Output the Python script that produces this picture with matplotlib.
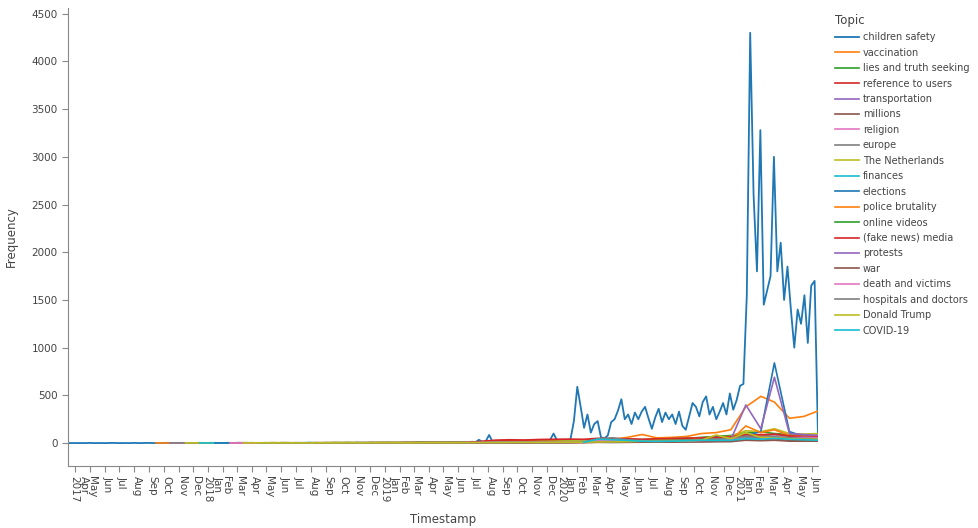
import numpy as np
import pandas as pd
import matplotlib
matplotlib.use("Agg")
import matplotlib.pyplot as plt
import matplotlib.dates as mdates

N = None

# weekly counts for the dominant topic
children_safety = [
    0, 1, 0, 0, 1, 0, 2, 1, 0, 1, 0, 0, 1, 2, 1, 0, 1, 1, 0, 2,
    1, 0, 1, 2, 1, 1, 0, 2, 1, 3, 1, 2, 1, 0, 2, 1, 2, 1, 3, 2,
    2, 1, 3, 2, 2, 1, 2, 3, 2, 1, 4, 2, 3, 2, 3, 1, 2, 4, 3, 2,
    3, 2, 2, 4, 3, 3, 2, 4, 3, 2, 3, 5, 3, 4, 2, 3, 4, 3, 5, 4,
    4, 3, 5, 4, 3, 6, 4, 5, 4, 6, 5, 4, 6, 5, 7, 5, 6, 4, 6, 7,
    6, 5, 7, 6, 8, 6, 7, 5, 8, 7, 6, 8, 7, 9, 8, 10, 8, 9, 12, 14,
    10, 35, 12, 20, 85, 15, 10, 18, 12, 20, 15, 18, 25, 20, 15, 22,
    18, 25, 30, 20, 28, 25, 35, 100, 30, 25, 35, 30, 40, 230, 590,
    380, 160, 300, 110, 200, 230, 60, 50, 80, 220,
    250, 340, 460, 250, 300, 200, 320, 250, 330, 380,
    260, 150, 270, 360, 220, 320, 250, 300, 200, 330,
    180, 140, 280, 420, 380, 280, 430, 490, 300, 380,
    250, 330, 420, 300, 520, 350, 450, 600, 620, 1550,
    4300, 2600, 1800, 3280, 1450, 1600, 1750, 3000, 1800, 2100,
    1500, 1850, 1400, 1000, 1400, 1250, 1550, 1050, 1650, 1700,
    60,
]

# monthly counts (Mar 2017 .. Jun 2021), None = topic not present yet
vaccination = [N, N, N, N, N, N, 2, 1, 3, 2,
               2, 3, 1, 2, 4, 3, 2, 3, 5, 4, 3, 4,
               5, 4, 6, 5, 4, 6, 8, 10, 12, 15, 14, 18,
               15, 20, 35, 40, 60, 90, 55, 60, 70, 100, 110, 140,
               380, 490, 430, 260, 280, 340]
lies_truth = [N, N, N, N, N, N, N, 1, 2, 1,
              2, 1, 2, 3, 2, 2, 3, 2, 3, 4, 3, 3,
              4, 3, 5, 4, 5, 6, 8, 10, 12, 14, 15, 18,
              20, 25, 30, 35, 40, 35, 40, 45, 50, 60, 70, 80,
              110, 120, 100, 90, 85, 80]
reference_users = [N, N, N, N, N, N, N, 2, 1, 2,
                   1, 2, 3, 2, 2, 3, 2, 4, 3, 3, 4, 5,
                   4, 5, 6, 5, 6, 8, 15, 25, 30, 28, 32, 30,
                   35, 30, 40, 45, 40, 35, 40, 45, 50, 55, 60, 70,
                   80, 90, 85, 70, 65, 60]
transportation = [N, N, N, N, N, N, N, 1, 0, 1,
                  1, 1, 2, 1, 1, 2, 1, 2, 1, 2, 2, 1,
                  2, 2, 3, 2, 3, 3, 5, 6, 8, 8, 10, 10,
                  12, 10, 15, 12, 15, 18, 15, 20, 22, 25, 30, 35,
                  60, 50, 70, 45, 40, 40]
millions = [N, N, N, N, N, N, N, 1, 1, 0,
            1, 0, 1, 1, 2, 1, 1, 1, 2, 1, 1, 2,
            2, 1, 2, 2, 3, 2, 4, 5, 6, 6, 7, 8,
            8, 10, 12, 10, 12, 15, 12, 14, 15, 18, 20, 25,
            40, 35, 45, 30, 30, 25]
religion = [N, N, N, N, N, N, N, 1, 1, 2,
            1, 2, 1, 2, 2, 3, 2, 2, 3, 3, 2, 3,
            3, 3, 4, 3, 4, 5, 6, 8, 10, 10, 12, 12,
            15, 14, 18, 20, 22, 20, 22, 25, 28, 30, 35, 40,
            70, 60, 75, 55, 60, 90]
europe = [N, N, N, N, N, N, N, 2, 3, 2,
          2, 2, 3, 2, 3, 2, 3, 3, 2, 3, 3, 4,
          4, 4, 5, 6, 10, 8, 8, 10, 12, 12, 14, 15,
          18, 15, 20, 18, 20, 22, 25, 28, 30, 35, 38, 45,
          70, 65, 80, 60, 55, 60]
netherlands = [N, N, N, N, N, N, N, N, 2, 3,
               3, 2, 4, 3, 3, 4, 3, 3, 4, 5, 4, 5,
               6, 5, 7, 6, 8, 7, 10, 12, 15, 16, 18, 20,
               22, 25, 35, 30, 32, 35, 38, 40, 45, 55, 60, 70,
               130, 120, 150, 100, 95, 100]
finances = [N, N, N, N, N, N, N, N, N, 2,
            2, 1, 2, 2, 3, 2, 2, 3, 3, 3, 2, 3,
            3, 3, 4, 4, 5, 5, 6, 8, 10, 10, 12, 12,
            14, 15, 22, 20, 18, 20, 22, 25, 28, 30, 32, 38,
            60, 55, 65, 50, 45, 50]
elections = [N, N, N, N, N, N, N, N, N, N,
             1, 1, 2, 1, 1, 1, 2, 1, 2, 2, 3, 2,
             3, 2, 4, 3, 3, 3, 4, 5, 5, 6, 8, 8,
             8, 10, 10, 8, 10, 12, 15, 20, 25, 40, 70, 35,
             80, 120, 840, 120, 70, 60]
police_brutality = [N, N, N, N, N, N, N, N, N, N,
                    N, N, N, N, N, N, N, N, N, N, N, N,
                    1, 1, 2, 1, 2, 2, 3, 3, 4, 4, 5, 5,
                    5, 6, 10, 12, 15, 30, 20, 15, 18, 22, 25, 30,
                    180, 110, 140, 80, 70, 60]
online_videos = [N, N, N, N, N, N, N, N, N, N,
                 N, N, N, 1, 1, 2, 1, 2, 2, 1, 2, 2,
                 2, 3, 3, 2, 3, 4, 5, 6, 7, 8, 10, 10,
                 12, 12, 18, 20, 22, 25, 25, 28, 30, 35, 40, 45,
                 70, 65, 80, 60, 60, 55]
fake_news_media = [N, N, N, N, N, N, N, N, N, N,
                   N, 1, 2, 1, 2, 2, 3, 2, 2, 3, 3, 3,
                   3, 4, 4, 5, 5, 6, 15, 30, 35, 32, 38, 40,
                   42, 40, 50, 48, 45, 40, 45, 48, 50, 55, 60, 65,
                   90, 85, 95, 75, 70, 70]
protests = [N, N, N, N, N, N, N, N, N, N,
            N, 1, 1, 1, 2, 1, 1, 2, 1, 2, 2, 2,
            2, 2, 3, 2, 3, 3, 4, 5, 5, 6, 7, 7,
            8, 8, 10, 12, 15, 25, 15, 18, 20, 22, 25, 35,
            400, 150, 690, 100, 90, 80]
war = [N, N, N, N, N, N, N, N, N, N,
       N, 0, 1, 1, 0, 1, 1, 1, 1, 1, 1, 2,
       1, 2, 2, 1, 2, 2, 3, 3, 4, 4, 5, 5,
       5, 6, 8, 8, 8, 10, 10, 10, 12, 12, 14, 15,
       30, 25, 30, 20, 20, 20]
death_victims = [N, N, N, N, N, N, N, N, N, N,
                 N, 1, 1, 2, 1, 2, 2, 1, 2, 2, 2, 3,
                 3, 3, 3, 4, 4, 5, 6, 7, 8, 8, 10, 10,
                 12, 14, 25, 30, 25, 20, 22, 22, 25, 28, 32, 38,
                 70, 60, 75, 55, 60, 55]
hospitals_doctors = [N, N, N, N, N, N, N, N, N, N,
                     N, N, N, 1, 1, 2, 1, 1, 2, 1, 2, 2,
                     2, 2, 3, 3, 3, 4, 4, 5, 5, 6, 6, 7,
                     8, 10, 45, 55, 35, 25, 22, 25, 28, 35, 40, 50,
                     70, 60, 65, 55, 50, 45]
donald_trump = [N, N, N, N, N, N, N, N, N, N,
                N, N, 2, 3, 2, 3, 2, 3, 3, 4, 3, 4,
                4, 3, 4, 5, 4, 5, 6, 6, 7, 8, 8, 9,
                10, 10, 12, 12, 15, 20, 18, 20, 25, 30, 85, 45,
                110, 60, 55, 45, 40, 40]
covid19 = [N, N, N, N, N, N, N, N, N, N,
           N, N, N, N, N, N, N, N, N, N, N, N,
           N, N, N, N, N, N, N, N, N, N, N, N,
           N, 8, 40, 35, 28, 20, 18, 20, 25, 30, 28, 30,
           45, 40, 50, 40, 35, 30]

topics = ["children safety", "vaccination", "lies and truth seeking",
          "reference to users", "transportation", "millions", "religion",
          "europe", "The Netherlands", "finances", "elections",
          "police brutality", "online videos", "(fake news) media",
          "protests", "war", "death and victims", "hospitals and doctors",
          "Donald Trump", "COVID-19"]
monthly_series = [vaccination, lies_truth, reference_users, transportation,
                  millions, religion, europe, netherlands, finances,
                  elections, police_brutality, online_videos,
                  fake_news_media, protests, war, death_victims,
                  hospitals_doctors, donald_trump, covid19]

weeks = pd.date_range("2017-03-19", periods=len(children_safety), freq="7D")
months = pd.date_range("2017-03-01", periods=len(vaccination), freq="MS") + pd.Timedelta(days=14)

colors = plt.get_cmap("tab10").colors
text_c = "#444444"
axis_c = "#888888"

fig = plt.figure(figsize=(9.79, 5.28), dpi=100)
ax = fig.add_axes([68 / 979, 62 / 528, 750 / 979, 458 / 528])

ax.plot(weeks, children_safety, color=colors[0], lw=1.3, label=topics[0])
for k, vals in enumerate(monthly_series, start=1):
    ax.plot(months, np.array(vals, dtype=float), color=colors[k % 10],
            lw=1.2, label=topics[k])

ax.set_xlim(pd.Timestamp("2017-03-17 12:00"), pd.Timestamp("2021-06-13"))
ax.set_ylim(-240, 4560)
ax.set_yticks(np.arange(0, 4501, 500))

# month ticks, with year labels squeezed in at January (as in the original)
month_ticks = pd.date_range("2017-04-01", "2021-06-01", freq="MS")
lab_pos, lab_txt = [], []
for i, d in enumerate(month_ticks):
    if i == 0 or d.month == 1:
        lab_pos += [d - pd.Timedelta(days=2), d + pd.Timedelta(days=19)]
        lab_txt += [str(d.year), d.strftime("%b")]
    else:
        lab_pos.append(d + pd.Timedelta(days=6))
        lab_txt.append(d.strftime("%b"))
ax.xaxis.remove_overlapping_locs = False
ax.set_xticks(mdates.date2num(month_ticks.to_pydatetime()))
ax.set_xticklabels([])
ax.set_xticks(mdates.date2num([p.to_pydatetime() for p in lab_pos]), lab_txt, minor=True)
ax.tick_params(axis="x", which="minor", length=0, pad=7, labelrotation=-90,
               labelsize=7.5, labelcolor=text_c)
ax.tick_params(axis="x", which="major", length=4, color=axis_c)
ax.tick_params(axis="y", length=4, color=axis_c, labelsize=7.5, labelcolor=text_c)

for s in ["top", "right"]:
    ax.spines[s].set_visible(False)
for s in ["left", "bottom"]:
    ax.spines[s].set_color(axis_c)

ax.set_xlabel("Timestamp", fontsize=8.5, color=text_c, labelpad=8)
ax.set_ylabel("Frequency", fontsize=8.5, color=text_c, labelpad=10)

leg = fig.legend(loc="upper left", bbox_to_anchor=(826 / 979, 1 - 5 / 528),
                 frameon=False, title="Topic", fontsize=7, title_fontsize=8.5,
                 handlelength=2.5, handletextpad=0.4, labelspacing=0.56,
                 alignment="left")
for t in leg.get_texts():
    t.set_color(text_c)
leg.get_title().set_color(text_c)

fig.savefig("out.png", dpi=100)
